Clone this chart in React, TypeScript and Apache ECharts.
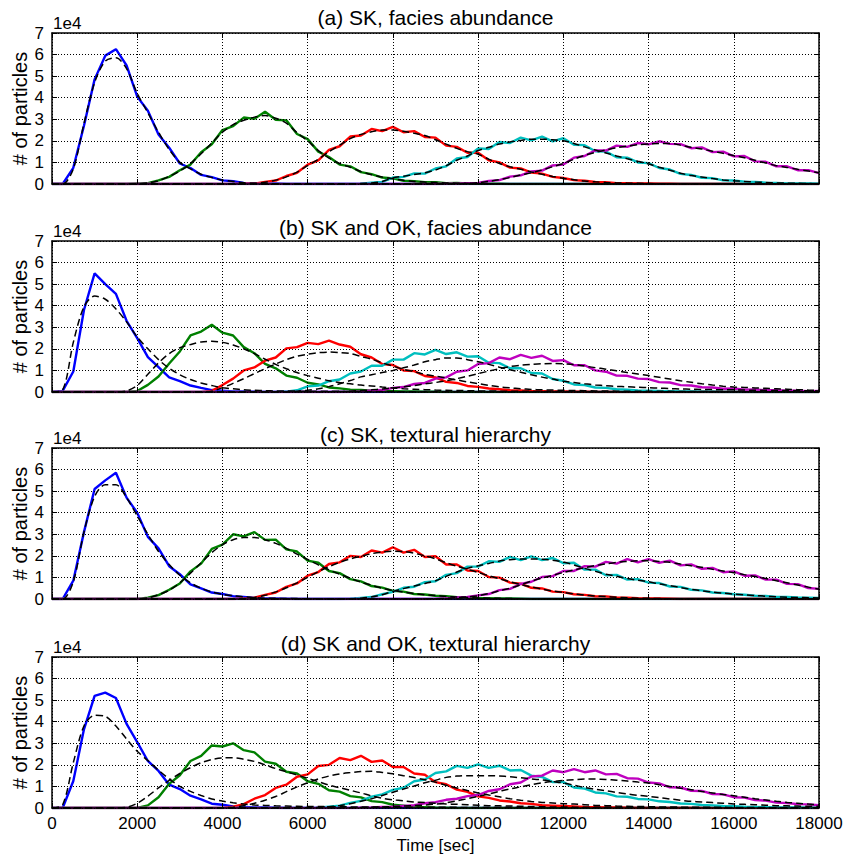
import React, { useEffect, useRef } from "react";
import * as echarts from "echarts";

// time samples (sec)
const TIME = [
  0, 250, 500, 750, 1000, 1250, 1500, 1750,
  2000, 2250, 2500, 2750, 3000, 3250, 3500, 3750,
  4000, 4250, 4500, 4750, 5000, 5250, 5500, 5750,
  6000, 6250, 6500, 6750, 7000, 7250, 7500, 7750,
  8000, 8250, 8500, 8750, 9000, 9250, 9500, 9750,
  10000, 10250, 10500, 10750, 11000, 11250, 11500, 11750,
  12000, 12250, 12500, 12750, 13000, 13250, 13500, 13750,
  14000, 14250, 14500, 14750, 15000, 15250, 15500, 15750,
  16000, 16250, 16500, 16750, 17000, 17250, 17500, 17750,
  18000,
];

const TITLES = [
  "(a) SK, facies abundance",
  "(b) SK and OK, facies abundance",
  "(c) SK, textural hierarchy",
  "(d) SK and OK, textural hierarchy",
];
const Y_LABEL = "# of particles";
const X_LABEL = "Time [sec]";
const Y_SCALE_LABEL = "1e4";

// ---------- panel (a) ----------
const A_BLUE = [
  0, 0, 0.75, 2.7, 4.85, 5.95, 6.25, 5.5,
  4.05, 3.4, 2.3, 1.68, 0.95, 0.74, 0.42, 0.32,
  0.17, 0.13, 0.05, 0.04, 0.01, 0.02, 0, 0,
  0, 0, 0, 0, 0, 0, 0, 0,
  0, 0, 0, 0, 0, 0, 0, 0,
  0, 0, 0, 0, 0, 0, 0, 0,
  0, 0, 0, 0, 0, 0, 0, 0,
  0, 0, 0, 0, 0, 0, 0, 0,
  0, 0, 0, 0, 0, 0, 0, 0,
  0,
];
const A_BLUE_FIT = [
  0, 0, 0.7, 2.8, 4.7, 5.7, 5.85, 5.35,
  4.2, 3.3, 2.4, 1.6, 1.0, 0.7, 0.45, 0.3,
  0.18, 0.12, 0.06, 0.03, 0.02, 0.01, 0, 0,
  0, 0, 0, 0, 0, 0, 0, 0,
  0, 0, 0, 0, 0, 0, 0, 0,
  0, 0, 0, 0, 0, 0, 0, 0,
  0, 0, 0, 0, 0, 0, 0, 0,
  0, 0, 0, 0, 0, 0, 0, 0,
  0, 0, 0, 0, 0, 0, 0, 0,
  0,
];
const A_GREEN = [
  0, 0, 0, 0, 0, 0, 0, 0,
  0.02, 0.04, 0.17, 0.33, 0.64, 0.9, 1.47, 1.84,
  2.5, 2.68, 3.08, 3.02, 3.35, 2.98, 2.95, 2.32,
  2.08, 1.5, 1.25, 0.9, 0.82, 0.55, 0.46, 0.3,
  0.26, 0.15, 0.13, 0.08, 0.08, 0.04, 0.05, 0.02,
  0.02, 0.01, 0.01, 0, 0, 0, 0, 0,
  0, 0, 0, 0, 0, 0, 0, 0,
  0, 0, 0, 0, 0, 0, 0, 0,
  0, 0, 0, 0, 0, 0, 0, 0,
  0,
];
const A_GREEN_FIT = [
  0, 0, 0, 0, 0, 0, 0, 0,
  0.01, 0.05, 0.15, 0.35, 0.6, 0.95, 1.4, 1.9,
  2.4, 2.75, 2.95, 3.1, 3.17, 3.05, 2.82, 2.38,
  2.0, 1.55, 1.2, 0.95, 0.78, 0.58, 0.43, 0.32,
  0.24, 0.17, 0.12, 0.09, 0.07, 0.05, 0.04, 0.03,
  0.02, 0.01, 0.01, 0, 0, 0, 0, 0,
  0, 0, 0, 0, 0, 0, 0, 0,
  0, 0, 0, 0, 0, 0, 0, 0,
  0, 0, 0, 0, 0, 0, 0, 0,
  0,
];
const A_RED = [
  0, 0, 0, 0, 0, 0, 0, 0,
  0, 0, 0, 0, 0, 0, 0, 0,
  0, 0, 0.02, 0.02, 0.1, 0.16, 0.37, 0.52,
  0.9, 1.1, 1.58, 1.75, 2.2, 2.25, 2.55, 2.45,
  2.65, 2.4, 2.45, 2.18, 2.15, 1.78, 1.72, 1.45,
  1.45, 1.1, 1.0, 0.76, 0.72, 0.53, 0.48, 0.33,
  0.28, 0.18, 0.15, 0.09, 0.08, 0.04, 0.04, 0.02,
  0.02, 0.01, 0.01, 0, 0, 0, 0, 0,
  0, 0, 0, 0, 0, 0, 0, 0,
  0,
];
const A_RED_FIT = [
  0, 0, 0, 0, 0, 0, 0, 0,
  0, 0, 0, 0, 0, 0, 0, 0,
  0, 0, 0.01, 0.03, 0.08, 0.18, 0.33, 0.55,
  0.85, 1.15, 1.5, 1.8, 2.1, 2.3, 2.42, 2.5,
  2.5, 2.45, 2.35, 2.25, 2.05, 1.85, 1.65, 1.5,
  1.38, 1.15, 0.95, 0.8, 0.68, 0.56, 0.45, 0.35,
  0.26, 0.2, 0.14, 0.1, 0.07, 0.05, 0.04, 0.03,
  0.02, 0.01, 0.01, 0, 0, 0, 0, 0,
  0, 0, 0, 0, 0, 0, 0, 0,
  0,
];
const A_CYAN = [
  0, 0, 0, 0, 0, 0, 0, 0,
  0, 0, 0, 0, 0, 0, 0, 0,
  0, 0, 0, 0, 0, 0, 0, 0,
  0, 0, 0, 0, 0, 0.01, 0.06, 0.1,
  0.3, 0.33, 0.49, 0.48, 0.72, 0.82, 1.18, 1.25,
  1.65, 1.62, 1.95, 1.9, 2.15, 2.02, 2.2, 1.98,
  2.12, 1.82, 1.8, 1.52, 1.5, 1.24, 1.22, 1.0,
  0.97, 0.74, 0.67, 0.47, 0.42, 0.29, 0.27, 0.17,
  0.16, 0.11, 0.1, 0.06, 0.05, 0.03, 0.03, 0.02,
  0.01,
];
const A_CYAN_FIT = [
  0, 0, 0, 0, 0, 0, 0, 0,
  0, 0, 0, 0, 0, 0, 0, 0,
  0, 0, 0, 0, 0, 0, 0, 0,
  0, 0, 0, 0, 0, 0.02, 0.05, 0.12,
  0.28, 0.36, 0.44, 0.52, 0.65, 0.85, 1.1, 1.3,
  1.55, 1.7, 1.85, 1.95, 2.02, 2.08, 2.08, 2.05,
  2.0, 1.88, 1.72, 1.58, 1.44, 1.3, 1.17, 1.05,
  0.93, 0.78, 0.64, 0.5, 0.39, 0.32, 0.25, 0.19,
  0.15, 0.12, 0.09, 0.07, 0.05, 0.04, 0.03, 0.02,
  0.01,
];
const A_MAGENTA = [
  0, 0, 0, 0, 0, 0, 0, 0,
  0, 0, 0, 0, 0, 0, 0, 0,
  0, 0, 0, 0, 0, 0, 0, 0,
  0, 0, 0, 0, 0, 0, 0, 0,
  0, 0, 0, 0, 0, 0.01, 0.01, 0.04,
  0.05, 0.14, 0.18, 0.34, 0.4, 0.58, 0.62, 0.86,
  0.9, 1.22, 1.3, 1.56, 1.55, 1.78, 1.72, 1.9,
  1.84, 1.98, 1.86, 1.85, 1.66, 1.7, 1.48, 1.5,
  1.28, 1.3, 1.05, 1.03, 0.82, 0.82, 0.64, 0.64,
  0.5,
];
const A_MAGENTA_FIT = [
  0, 0, 0, 0, 0, 0, 0, 0,
  0, 0, 0, 0, 0, 0, 0, 0,
  0, 0, 0, 0, 0, 0, 0, 0,
  0, 0, 0, 0, 0, 0, 0, 0,
  0, 0, 0, 0, 0, 0, 0.01, 0.03,
  0.06, 0.12, 0.2, 0.3, 0.42, 0.52, 0.65, 0.8,
  0.95, 1.15, 1.33, 1.47, 1.58, 1.68, 1.76, 1.82,
  1.86, 1.88, 1.88, 1.8, 1.7, 1.62, 1.52, 1.42,
  1.32, 1.22, 1.1, 0.97, 0.85, 0.77, 0.68, 0.6,
  0.52,
];

// ---------- panel (b) ----------
const B_BLUE = [
  0, 0.05, 0.95, 3.8, 5.5, 5.0, 4.55, 3.3,
  2.5, 1.62, 1.15, 0.68, 0.5, 0.3, 0.19, 0.09,
  0.06, 0.03, 0.02, 0.01, 0, 0, 0, 0,
  0, 0, 0, 0, 0, 0, 0, 0,
  0, 0, 0, 0, 0, 0, 0, 0,
  0, 0, 0, 0, 0, 0, 0, 0,
  0, 0, 0, 0, 0, 0, 0, 0,
  0, 0, 0, 0, 0, 0, 0, 0,
  0, 0, 0, 0, 0, 0, 0, 0,
  0,
];
const B_BLUE_FIT = [
  0, 0.1, 2.3, 3.95, 4.45, 4.3, 3.85, 3.25,
  2.55, 2.0, 1.5, 1.1, 0.8, 0.58, 0.42, 0.3,
  0.2, 0.15, 0.1, 0.08, 0.06, 0.05, 0.05, 0.04,
  0.04, 0.03, 0.03, 0.03, 0.02, 0.02, 0.02, 0.02,
  0.02, 0.01, 0.01, 0.01, 0.01, 0.01, 0.01, 0.01,
  0.01, 0, 0, 0, 0, 0, 0, 0,
  0, 0, 0, 0, 0, 0, 0, 0,
  0, 0, 0, 0, 0, 0, 0, 0,
  0, 0, 0, 0, 0, 0, 0, 0,
  0,
];
const B_GREEN = [
  0, 0, 0, 0, 0, 0, 0, 0,
  0.05, 0.33, 0.72, 1.32, 1.88, 2.62, 2.8, 3.12,
  2.75, 2.62, 2.08, 1.8, 1.3, 1.1, 0.76, 0.66,
  0.43, 0.35, 0.21, 0.17, 0.11, 0.1, 0.06, 0.05,
  0.04, 0.03, 0.02, 0.01, 0.01, 0, 0, 0,
  0, 0, 0, 0, 0, 0, 0, 0,
  0, 0, 0, 0, 0, 0, 0, 0,
  0, 0, 0, 0, 0, 0, 0, 0,
  0, 0, 0, 0, 0, 0, 0, 0,
  0,
];
const B_GREEN_FIT = [
  0, 0, 0, 0, 0, 0, 0, 0.05,
  0.3, 0.82, 1.35, 1.78, 2.05, 2.2, 2.32, 2.35,
  2.3, 2.18, 2.0, 1.78, 1.52, 1.28, 1.08, 0.9,
  0.76, 0.64, 0.52, 0.44, 0.38, 0.32, 0.28, 0.23,
  0.19, 0.15, 0.13, 0.11, 0.09, 0.08, 0.07, 0.06,
  0.05, 0.05, 0.04, 0.04, 0.03, 0.03, 0.02, 0.02,
  0.02, 0.01, 0.01, 0.01, 0.01, 0.01, 0, 0,
  0, 0, 0, 0, 0, 0, 0, 0,
  0, 0, 0, 0, 0, 0, 0, 0,
  0,
];
const B_RED = [
  0, 0, 0, 0, 0, 0, 0, 0,
  0, 0, 0, 0, 0, 0, 0, 0.05,
  0.32, 0.62, 1.0, 1.14, 1.45, 1.6, 2.02, 2.08,
  2.28, 2.22, 2.38, 2.2, 2.1, 1.75, 1.6, 1.3,
  1.25, 1.0, 0.97, 0.74, 0.68, 0.47, 0.42, 0.28,
  0.24, 0.16, 0.13, 0.08, 0.07, 0.05, 0.04, 0.03,
  0.02, 0.01, 0.01, 0, 0, 0, 0, 0,
  0, 0, 0, 0, 0, 0, 0, 0,
  0, 0, 0, 0, 0, 0, 0, 0,
  0,
];
const B_RED_FIT = [
  0, 0, 0, 0, 0, 0, 0, 0,
  0, 0, 0, 0, 0, 0, 0, 0.04,
  0.2, 0.4, 0.62, 0.85, 1.08, 1.3, 1.5, 1.66,
  1.75, 1.82, 1.85, 1.83, 1.78, 1.65, 1.52, 1.35,
  1.2, 1.05, 0.94, 0.82, 0.74, 0.65, 0.56, 0.47,
  0.39, 0.31, 0.24, 0.19, 0.15, 0.12, 0.1, 0.09,
  0.08, 0.07, 0.06, 0.05, 0.05, 0.04, 0.04, 0.04,
  0.03, 0.03, 0.03, 0.02, 0.02, 0.02, 0.02, 0.01,
  0.01, 0.01, 0.01, 0.01, 0.01, 0.01, 0.01, 0.01,
  0.01,
];
const B_CYAN = [
  0, 0, 0, 0, 0, 0, 0, 0,
  0, 0, 0, 0, 0, 0, 0, 0,
  0, 0, 0, 0, 0, 0, 0.02, 0.08,
  0.26, 0.3, 0.5, 0.58, 0.86, 0.95, 1.22, 1.22,
  1.5, 1.5, 1.8, 1.74, 1.95, 1.76, 1.84, 1.64,
  1.66, 1.36, 1.34, 1.1, 1.1, 0.88, 0.86, 0.6,
  0.52, 0.35, 0.32, 0.21, 0.19, 0.13, 0.11, 0.07,
  0.06, 0.05, 0.04, 0.03, 0.02, 0.01, 0.01, 0,
  0, 0, 0, 0, 0, 0, 0, 0,
  0,
];
const B_CYAN_FIT = [
  0, 0, 0, 0, 0, 0, 0, 0,
  0, 0, 0, 0, 0, 0, 0, 0,
  0, 0, 0, 0, 0, 0, 0, 0.04,
  0.08, 0.15, 0.25, 0.38, 0.53, 0.7, 0.8, 0.9,
  1.0, 1.12, 1.25, 1.4, 1.5, 1.58, 1.58, 1.5,
  1.4, 1.28, 1.15, 1.03, 0.92, 0.8, 0.69, 0.6,
  0.5, 0.44, 0.38, 0.33, 0.29, 0.26, 0.24, 0.22,
  0.2, 0.18, 0.16, 0.14, 0.13, 0.12, 0.11, 0.1,
  0.1, 0.09, 0.08, 0.08, 0.07, 0.07, 0.06, 0.06,
  0.05,
];
const B_MAGENTA = [
  0, 0, 0, 0, 0, 0, 0, 0,
  0, 0, 0, 0, 0, 0, 0, 0,
  0, 0, 0, 0, 0, 0, 0, 0,
  0, 0, 0, 0, 0.01, 0.03, 0.07, 0.09,
  0.19, 0.23, 0.37, 0.42, 0.62, 0.68, 0.94, 1.0,
  1.3, 1.34, 1.6, 1.52, 1.72, 1.58, 1.68, 1.44,
  1.48, 1.24, 1.24, 1.0, 0.94, 0.76, 0.75, 0.62,
  0.6, 0.46, 0.44, 0.32, 0.3, 0.22, 0.21, 0.15,
  0.16, 0.11, 0.12, 0.08, 0.08, 0.06, 0.06, 0.04,
  0.05,
];
const B_MAGENTA_FIT = [
  0, 0, 0, 0, 0, 0, 0, 0,
  0, 0, 0, 0, 0, 0, 0, 0,
  0, 0, 0, 0, 0, 0, 0, 0,
  0, 0, 0.01, 0.02, 0.04, 0.07, 0.1, 0.14,
  0.19, 0.24, 0.3, 0.38, 0.44, 0.52, 0.62, 0.73,
  0.85, 0.97, 1.08, 1.18, 1.24, 1.28, 1.31, 1.32,
  1.31, 1.27, 1.2, 1.13, 1.06, 0.98, 0.9, 0.83,
  0.76, 0.68, 0.6, 0.52, 0.45, 0.38, 0.32, 0.27,
  0.23, 0.21, 0.19, 0.17, 0.15, 0.13, 0.11, 0.09,
  0.08,
];

// ---------- panel (c) ----------
const C_BLUE = [
  0, 0, 0.85, 3.1, 5.1, 5.5, 5.85, 4.7,
  4.0, 2.88, 2.35, 1.52, 1.15, 0.68, 0.49, 0.3,
  0.23, 0.13, 0.09, 0.05, 0.03, 0.02, 0.01, 0,
  0, 0, 0, 0, 0, 0, 0, 0,
  0, 0, 0, 0, 0, 0, 0, 0,
  0, 0, 0, 0, 0, 0, 0, 0,
  0, 0, 0, 0, 0, 0, 0, 0,
  0, 0, 0, 0, 0, 0, 0, 0,
  0, 0, 0, 0, 0, 0, 0, 0,
  0,
];
const C_BLUE_FIT = [
  0, 0, 0.8, 3.1, 4.75, 5.3, 5.3, 4.7,
  3.85, 3.0, 2.2, 1.6, 1.1, 0.75, 0.5, 0.33,
  0.22, 0.15, 0.1, 0.06, 0.04, 0.03, 0.02, 0.02,
  0.01, 0.01, 0, 0, 0, 0, 0, 0,
  0, 0, 0, 0, 0, 0, 0, 0,
  0, 0, 0, 0, 0, 0, 0, 0,
  0, 0, 0, 0, 0, 0, 0, 0,
  0, 0, 0, 0, 0, 0, 0, 0,
  0, 0, 0, 0, 0, 0, 0, 0,
  0,
];
const C_GREEN = [
  0, 0, 0, 0, 0, 0, 0, 0,
  0, 0.06, 0.18, 0.43, 0.72, 1.28, 1.64, 2.32,
  2.52, 3.0, 2.9, 3.1, 2.74, 2.75, 2.3, 2.2,
  1.78, 1.68, 1.3, 1.2, 0.92, 0.82, 0.6, 0.53,
  0.38, 0.34, 0.23, 0.21, 0.15, 0.13, 0.08, 0.07,
  0.05, 0.04, 0.03, 0.02, 0.01, 0, 0, 0,
  0, 0, 0, 0, 0, 0, 0, 0,
  0, 0, 0, 0, 0, 0, 0, 0,
  0, 0, 0, 0, 0, 0, 0, 0,
  0,
];
const C_GREEN_FIT = [
  0, 0, 0, 0, 0, 0, 0, 0,
  0, 0.05, 0.2, 0.4, 0.75, 1.2, 1.68, 2.15,
  2.52, 2.75, 2.85, 2.85, 2.75, 2.58, 2.35, 2.08,
  1.83, 1.58, 1.35, 1.15, 0.96, 0.78, 0.64, 0.5,
  0.4, 0.32, 0.25, 0.2, 0.16, 0.12, 0.09, 0.07,
  0.05, 0.04, 0.03, 0.02, 0.01, 0, 0, 0,
  0, 0, 0, 0, 0, 0, 0, 0,
  0, 0, 0, 0, 0, 0, 0, 0,
  0, 0, 0, 0, 0, 0, 0, 0,
  0,
];
const C_RED = [
  0, 0, 0, 0, 0, 0, 0, 0,
  0, 0, 0, 0, 0, 0, 0, 0,
  0, 0, 0.03, 0.06, 0.19, 0.3, 0.56, 0.72,
  1.08, 1.25, 1.62, 1.7, 2.0, 1.95, 2.25, 2.15,
  2.4, 2.15, 2.28, 1.95, 1.98, 1.6, 1.6, 1.32,
  1.3, 1.02, 0.99, 0.76, 0.71, 0.52, 0.49, 0.34,
  0.32, 0.22, 0.19, 0.13, 0.12, 0.07, 0.06, 0.04,
  0.03, 0.02, 0.01, 0, 0, 0, 0, 0,
  0, 0, 0, 0, 0, 0, 0, 0,
  0,
];
const C_RED_FIT = [
  0, 0, 0, 0, 0, 0, 0, 0,
  0, 0, 0, 0, 0, 0, 0, 0,
  0, 0, 0.02, 0.07, 0.17, 0.33, 0.52, 0.75,
  1.0, 1.27, 1.5, 1.7, 1.86, 1.98, 2.1, 2.18,
  2.22, 2.2, 2.12, 2.0, 1.86, 1.68, 1.52, 1.38,
  1.23, 1.08, 0.94, 0.8, 0.67, 0.56, 0.46, 0.37,
  0.3, 0.24, 0.18, 0.14, 0.11, 0.08, 0.06, 0.04,
  0.03, 0.02, 0.01, 0, 0, 0, 0, 0,
  0, 0, 0, 0, 0, 0, 0, 0,
  0,
];
const C_CYAN = [
  0, 0, 0, 0, 0, 0, 0, 0,
  0, 0, 0, 0, 0, 0, 0, 0,
  0, 0, 0, 0, 0, 0, 0, 0,
  0, 0, 0, 0, 0.01, 0.05, 0.09, 0.22,
  0.33, 0.52, 0.57, 0.78, 0.82, 1.12, 1.2, 1.5,
  1.5, 1.75, 1.72, 1.95, 1.8, 1.98, 1.8, 1.9,
  1.66, 1.68, 1.36, 1.36, 1.1, 1.12, 0.9, 0.92,
  0.76, 0.74, 0.58, 0.56, 0.43, 0.4, 0.3, 0.28,
  0.22, 0.2, 0.15, 0.14, 0.1, 0.09, 0.07, 0.06,
  0.05,
];
const C_CYAN_FIT = [
  0, 0, 0, 0, 0, 0, 0, 0,
  0, 0, 0, 0, 0, 0, 0, 0,
  0, 0, 0, 0, 0, 0, 0, 0,
  0, 0, 0, 0, 0.01, 0.04, 0.1, 0.2,
  0.35, 0.48, 0.6, 0.72, 0.85, 1.05, 1.25, 1.42,
  1.54, 1.65, 1.76, 1.82, 1.85, 1.86, 1.84, 1.8,
  1.72, 1.58, 1.42, 1.28, 1.15, 1.05, 0.95, 0.87,
  0.8, 0.7, 0.62, 0.53, 0.45, 0.38, 0.32, 0.27,
  0.23, 0.19, 0.16, 0.13, 0.1, 0.08, 0.07, 0.06,
  0.05,
];
const C_MAGENTA = [
  0, 0, 0, 0, 0, 0, 0, 0,
  0, 0, 0, 0, 0, 0, 0, 0,
  0, 0, 0, 0, 0, 0, 0, 0,
  0, 0, 0, 0, 0, 0, 0, 0,
  0, 0, 0, 0, 0.01, 0.03, 0.07, 0.09,
  0.17, 0.23, 0.41, 0.47, 0.7, 0.8, 1.02, 1.06,
  1.3, 1.3, 1.52, 1.5, 1.72, 1.64, 1.85, 1.7,
  1.85, 1.68, 1.78, 1.56, 1.6, 1.4, 1.44, 1.24,
  1.28, 1.08, 1.09, 0.9, 0.9, 0.7, 0.69, 0.51,
  0.47,
];
const C_MAGENTA_FIT = [
  0, 0, 0, 0, 0, 0, 0, 0,
  0, 0, 0, 0, 0, 0, 0, 0,
  0, 0, 0, 0, 0, 0, 0, 0,
  0, 0, 0, 0, 0, 0, 0, 0,
  0, 0, 0, 0, 0.01, 0.03, 0.06, 0.1,
  0.15, 0.25, 0.38, 0.5, 0.66, 0.83, 0.97, 1.1,
  1.23, 1.35, 1.45, 1.55, 1.63, 1.7, 1.74, 1.77,
  1.77, 1.74, 1.7, 1.62, 1.54, 1.47, 1.38, 1.3,
  1.22, 1.13, 1.04, 0.95, 0.85, 0.75, 0.65, 0.55,
  0.45,
];

// ---------- panel (d) ----------
const D_BLUE = [
  0, 0, 1.25, 3.65, 5.2, 5.35, 5.1, 3.9,
  3.05, 2.18, 1.72, 1.08, 0.88, 0.57, 0.4, 0.2,
  0.15, 0.07, 0.05, 0.03, 0.02, 0.01, 0, 0,
  0, 0, 0, 0, 0, 0, 0, 0,
  0, 0, 0, 0, 0, 0, 0, 0,
  0, 0, 0, 0, 0, 0, 0, 0,
  0, 0, 0, 0, 0, 0, 0, 0,
  0, 0, 0, 0, 0, 0, 0, 0,
  0, 0, 0, 0, 0, 0, 0, 0,
  0,
];
const D_BLUE_FIT = [
  0, 0.15, 2.1, 3.8, 4.3, 4.25, 3.8, 3.2,
  2.63, 2.2, 1.75, 1.35, 1.0, 0.77, 0.58, 0.42,
  0.32, 0.24, 0.18, 0.14, 0.12, 0.1, 0.09, 0.08,
  0.07, 0.07, 0.06, 0.06, 0.05, 0.05, 0.05, 0.04,
  0.04, 0.04, 0.03, 0.03, 0.03, 0.03, 0.03, 0.02,
  0.02, 0.02, 0.02, 0.02, 0.02, 0.01, 0.01, 0.01,
  0.01, 0.01, 0.01, 0.01, 0, 0, 0, 0,
  0, 0, 0, 0, 0, 0, 0, 0,
  0, 0, 0, 0, 0, 0, 0, 0,
  0,
];
const D_GREEN = [
  0, 0, 0, 0, 0, 0, 0, 0,
  0, 0.12, 0.5, 1.12, 1.52, 2.18, 2.42, 2.9,
  2.85, 3.0, 2.68, 2.58, 2.15, 2.05, 1.68, 1.6,
  1.24, 1.12, 0.82, 0.76, 0.55, 0.49, 0.32, 0.27,
  0.15, 0.11, 0.05, 0.04, 0.02, 0.01, 0, 0,
  0, 0, 0, 0, 0, 0, 0, 0,
  0, 0, 0, 0, 0, 0, 0, 0,
  0, 0, 0, 0, 0, 0, 0, 0,
  0, 0, 0, 0, 0, 0, 0, 0,
  0,
];
const D_GREEN_FIT = [
  0, 0, 0, 0, 0, 0, 0, 0.03,
  0.22, 0.55, 0.93, 1.28, 1.6, 1.87, 2.1, 2.25,
  2.32, 2.33, 2.26, 2.16, 2.0, 1.83, 1.68, 1.53,
  1.38, 1.22, 1.06, 0.94, 0.82, 0.7, 0.56, 0.45,
  0.38, 0.33, 0.28, 0.25, 0.22, 0.19, 0.17, 0.15,
  0.13, 0.11, 0.1, 0.09, 0.08, 0.07, 0.06, 0.05,
  0.05, 0.04, 0.04, 0.03, 0.03, 0.03, 0.02, 0.02,
  0.02, 0.01, 0.01, 0.01, 0.01, 0, 0, 0,
  0, 0, 0, 0, 0, 0, 0, 0,
  0,
];
const D_RED = [
  0, 0, 0, 0, 0, 0, 0, 0,
  0, 0, 0, 0, 0, 0, 0, 0,
  0, 0.06, 0.18, 0.43, 0.6, 0.93, 1.08, 1.45,
  1.56, 1.95, 2.0, 2.32, 2.22, 2.42, 2.14, 2.2,
  1.9, 1.9, 1.6, 1.54, 1.2, 1.1, 0.85, 0.75,
  0.54, 0.47, 0.35, 0.3, 0.22, 0.19, 0.13, 0.11,
  0.09, 0.07, 0.05, 0.04, 0.03, 0.02, 0.01, 0,
  0, 0, 0, 0, 0, 0, 0, 0,
  0, 0, 0, 0, 0, 0, 0, 0,
  0,
];
const D_RED_FIT = [
  0, 0, 0, 0, 0, 0, 0, 0,
  0, 0, 0, 0, 0, 0, 0, 0,
  0.01, 0.04, 0.1, 0.22, 0.36, 0.53, 0.76, 0.98,
  1.17, 1.35, 1.48, 1.58, 1.64, 1.69, 1.7, 1.65,
  1.59, 1.5, 1.41, 1.31, 1.2, 1.05, 0.93, 0.81,
  0.7, 0.6, 0.52, 0.43, 0.36, 0.3, 0.26, 0.23,
  0.2, 0.18, 0.15, 0.12, 0.11, 0.09, 0.08, 0.07,
  0.06, 0.05, 0.05, 0.04, 0.04, 0.03, 0.03, 0.03,
  0.02, 0.02, 0.02, 0.02, 0.01, 0.01, 0.01, 0.01,
  0.01,
];
const D_CYAN = [
  0, 0, 0, 0, 0, 0, 0, 0,
  0, 0, 0, 0, 0, 0, 0, 0,
  0, 0, 0, 0, 0, 0, 0, 0,
  0, 0.01, 0.06, 0.11, 0.24, 0.33, 0.53, 0.63,
  0.84, 0.94, 1.24, 1.32, 1.62, 1.7, 1.95, 1.86,
  2.02, 1.86, 1.96, 1.74, 1.76, 1.5, 1.44, 1.2,
  1.2, 0.95, 0.9, 0.72, 0.68, 0.54, 0.52, 0.42,
  0.4, 0.31, 0.28, 0.21, 0.19, 0.14, 0.12, 0.09,
  0.08, 0.06, 0.05, 0.04, 0.03, 0.02, 0.02, 0.01,
  0.01,
];
const D_CYAN_FIT = [
  0, 0, 0, 0, 0, 0, 0, 0,
  0, 0, 0, 0, 0, 0, 0, 0,
  0, 0, 0, 0, 0, 0, 0, 0,
  0.01, 0.03, 0.06, 0.11, 0.2, 0.31, 0.43, 0.58,
  0.73, 0.88, 1.02, 1.17, 1.29, 1.42, 1.48, 1.5,
  1.5, 1.5, 1.48, 1.45, 1.4, 1.35, 1.3, 1.23,
  1.16, 1.06, 0.95, 0.87, 0.8, 0.72, 0.65, 0.59,
  0.54, 0.48, 0.42, 0.36, 0.31, 0.28, 0.25, 0.22,
  0.19, 0.17, 0.15, 0.13, 0.11, 0.1, 0.09, 0.08,
  0.08,
];
const D_MAGENTA = [
  0, 0, 0, 0, 0, 0, 0, 0,
  0, 0, 0, 0, 0, 0, 0, 0,
  0, 0, 0, 0, 0, 0, 0, 0,
  0, 0, 0, 0, 0, 0.01, 0.02, 0.05,
  0.06, 0.1, 0.13, 0.22, 0.27, 0.38, 0.43, 0.55,
  0.6, 0.79, 0.87, 1.1, 1.18, 1.46, 1.5, 1.74,
  1.66, 1.8, 1.66, 1.74, 1.56, 1.58, 1.38, 1.36,
  1.18, 1.14, 0.96, 0.95, 0.8, 0.79, 0.65, 0.63,
  0.5, 0.48, 0.37, 0.34, 0.25, 0.23, 0.18, 0.17,
  0.13,
];
const D_MAGENTA_FIT = [
  0, 0, 0, 0, 0, 0, 0, 0,
  0, 0, 0, 0, 0, 0, 0, 0,
  0, 0, 0, 0, 0, 0, 0, 0,
  0, 0, 0, 0, 0.01, 0.02, 0.03, 0.05,
  0.07, 0.09, 0.11, 0.14, 0.18, 0.24, 0.33, 0.43,
  0.54, 0.65, 0.77, 0.89, 0.98, 1.08, 1.17, 1.23,
  1.28, 1.31, 1.34, 1.34, 1.32, 1.29, 1.25, 1.2,
  1.16, 1.08, 1.0, 0.92, 0.85, 0.77, 0.7, 0.63,
  0.57, 0.5, 0.43, 0.37, 0.31, 0.26, 0.22, 0.18,
  0.15,
];

const PANELS = [
  { sim: [A_BLUE, A_GREEN, A_RED, A_CYAN, A_MAGENTA], fit: [A_BLUE_FIT, A_GREEN_FIT, A_RED_FIT, A_CYAN_FIT, A_MAGENTA_FIT] },
  { sim: [B_BLUE, B_GREEN, B_RED, B_CYAN, B_MAGENTA], fit: [B_BLUE_FIT, B_GREEN_FIT, B_RED_FIT, B_CYAN_FIT, B_MAGENTA_FIT] },
  { sim: [C_BLUE, C_GREEN, C_RED, C_CYAN, C_MAGENTA], fit: [C_BLUE_FIT, C_GREEN_FIT, C_RED_FIT, C_CYAN_FIT, C_MAGENTA_FIT] },
  { sim: [D_BLUE, D_GREEN, D_RED, D_CYAN, D_MAGENTA], fit: [D_BLUE_FIT, D_GREEN_FIT, D_RED_FIT, D_CYAN_FIT, D_MAGENTA_FIT] },
];

const COLORS = ["#0000ff", "#008000", "#ff0000", "#00bfbf", "#bf00bf"];
const FONT = "'Liberation Sans', Arial, Helvetica, sans-serif";

const W = 859;
const H = 855;
const PLOT_LEFT = 52;
const PLOT_RIGHT = 819;
const PLOT_H = 151;
const PANEL_TOPS = [33, 241, 448, 657];
const TITLE_Y = [17, 227, 434, 643];

function buildOption() {
  const grid: any[] = [];
  const xAxis: any[] = [];
  const yAxis: any[] = [];
  const series: any[] = [];
  const graphic: any[] = [];
  const frameLine = { show: true, onZero: false, lineStyle: { color: "#000", width: 1.5 } };
  const tick = { show: true, inside: true, length: 5, lineStyle: { color: "#000", width: 1 } };
  const dotted = { show: true, lineStyle: { color: "#000", width: 1, type: [1, 2] } };
  const plain = (v: number) => String(v);

  PANEL_TOPS.forEach((top, k) => {
    grid.push({ left: PLOT_LEFT, width: PLOT_RIGHT - PLOT_LEFT, top, height: PLOT_H });
    xAxis.push({
      gridIndex: k, type: "value", position: "bottom", min: 0, max: 18000, interval: 2000, z: 10,
      axisLine: frameLine, axisTick: tick, splitLine: dotted,
      axisLabel: { show: k === 3, color: "#000", fontSize: 17, fontFamily: FONT, margin: 7, formatter: plain },
    });
    xAxis.push({
      gridIndex: k, type: "value", position: "top", min: 0, max: 18000, interval: 2000, z: 10,
      axisLine: frameLine, axisTick: tick, splitLine: { show: false }, axisLabel: { show: false },
    });
    yAxis.push({
      gridIndex: k, type: "value", position: "left", min: 0, max: 7, interval: 1, z: 10,
      axisLine: frameLine, axisTick: tick, splitLine: dotted,
      axisLabel: { color: "#000", fontSize: 17, fontFamily: FONT, margin: 8, formatter: plain },
    });
    yAxis.push({
      gridIndex: k, type: "value", position: "right", min: 0, max: 7, interval: 1, z: 10,
      axisLine: frameLine, axisTick: tick, splitLine: { show: false }, axisLabel: { show: false },
    });

    const p = PANELS[k];
    p.sim.forEach((arr, j) => {
      series.push({
        type: "line", xAxisIndex: 2 * k, yAxisIndex: 2 * k, showSymbol: false, symbol: "none",
        data: TIME.map((t, i) => [t, arr[i]]),
        lineStyle: { color: COLORS[j], width: 2.4, join: "bevel" }, itemStyle: { color: COLORS[j] }, z: 2,
      });
    });
    p.fit.forEach((arr) => {
      series.push({
        type: "line", xAxisIndex: 2 * k, yAxisIndex: 2 * k, showSymbol: false, symbol: "none", smooth: 0.3,
        data: TIME.map((t, i) => [t, arr[i]]),
        lineStyle: { color: "#000", width: 1.5, type: [7, 4] }, itemStyle: { color: "#000" }, z: 3,
      });
    });

    graphic.push({
      type: "text", x: (PLOT_LEFT + PLOT_RIGHT) / 2, y: TITLE_Y[k],
      style: { text: TITLES[k], font: `21px ${FONT}`, fill: "#000", textAlign: "center", textVerticalAlign: "middle", align: "center", verticalAlign: "middle" },
    });
    graphic.push({
      type: "text", x: PLOT_LEFT + 1, y: top - 10,
      style: { text: Y_SCALE_LABEL, font: `17px ${FONT}`, fill: "#000", textAlign: "left", textVerticalAlign: "middle", align: "left", verticalAlign: "middle" },
    });
    graphic.push({
      type: "text", x: 20, y: top + PLOT_H / 2, rotation: Math.PI / 2,
      style: { text: Y_LABEL, font: `20px ${FONT}`, fill: "#000", textAlign: "center", textVerticalAlign: "middle", align: "center", verticalAlign: "middle" },
    });
  });

  graphic.push({
    type: "text", x: (PLOT_LEFT + PLOT_RIGHT) / 2, y: 845,
    style: { text: X_LABEL, font: `17px ${FONT}`, fill: "#000", textAlign: "center", textVerticalAlign: "middle", align: "center", verticalAlign: "middle" },
  });

  return { animation: false, backgroundColor: "#fff", grid, xAxis, yAxis, series, graphic };
}

export default function App() {
  const ref = useRef<HTMLDivElement>(null);
  useEffect(() => {
    if (!ref.current) return;
    const chart = echarts.init(ref.current, undefined, { renderer: "svg" });
    chart.setOption(buildOption() as any);
    return () => chart.dispose();
  }, []);
  return <div ref={ref} style={{ position: "absolute", left: 0, top: 0, width: W, height: H }} />;
}
